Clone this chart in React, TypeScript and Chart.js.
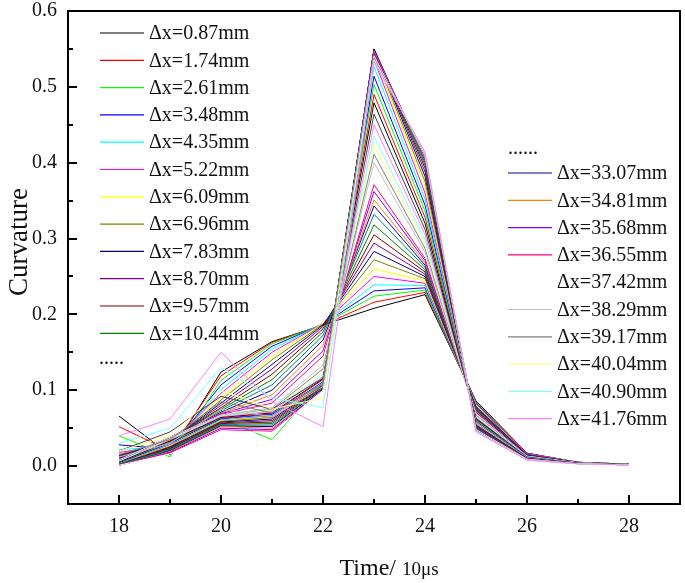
import React, { useEffect, useRef } from "react";
import { Chart, registerables } from "chart.js";

Chart.register(...registerables);

// ---------- data ----------
const timeSteps = [18, 19, 20, 21, 22, 23, 24, 25, 26, 27, 28];

const s01 = [0.066, 0.015, 0.124, 0.164, 0.186, 0.208, 0.226, 0.086, 0.017, 0.005, 0.0025];
const s02 = [0.052, 0.020, 0.119, 0.163, 0.186, 0.216, 0.229, 0.085, 0.017, 0.005, 0.0025];
const s03 = [0.040, 0.012, 0.113, 0.161, 0.187, 0.224, 0.232, 0.084, 0.016, 0.005, 0.0025];
const s04 = [0.028, 0.022, 0.107, 0.158, 0.187, 0.231, 0.235, 0.083, 0.016, 0.005, 0.0025];
const s05 = [0.022, 0.025, 0.101, 0.154, 0.188, 0.239, 0.238, 0.082, 0.016, 0.005, 0.0024];
const s06 = [0.018, 0.028, 0.096, 0.150, 0.188, 0.250, 0.241, 0.081, 0.016, 0.005, 0.0024];
const s07 = [0.016, 0.030, 0.091, 0.145, 0.188, 0.260, 0.244, 0.080, 0.015, 0.0048, 0.0024];
const s08 = [0.015, 0.032, 0.087, 0.140, 0.187, 0.272, 0.247, 0.079, 0.015, 0.0047, 0.0024];
const s09 = [0.014, 0.033, 0.083, 0.134, 0.186, 0.283, 0.250, 0.078, 0.015, 0.0046, 0.0023];
const s10 = [0.013, 0.034, 0.080, 0.128, 0.184, 0.294, 0.253, 0.077, 0.015, 0.0045, 0.0023];
const s11 = [0.012, 0.035, 0.077, 0.121, 0.181, 0.305, 0.256, 0.076, 0.014, 0.0045, 0.0023];
const s12 = [0.011, 0.036, 0.075, 0.114, 0.177, 0.318, 0.259, 0.075, 0.014, 0.0044, 0.0023];
const s13 = [0.010, 0.036, 0.073, 0.107, 0.172, 0.332, 0.262, 0.074, 0.014, 0.0044, 0.0022];
const s14 = [0.010, 0.037, 0.071, 0.100, 0.166, 0.343, 0.265, 0.073, 0.014, 0.0043, 0.0022];
const s15 = [0.009, 0.037, 0.070, 0.094, 0.159, 0.351, 0.268, 0.072, 0.013, 0.0043, 0.0022];
const s16 = [0.009, 0.038, 0.069, 0.088, 0.152, 0.362, 0.271, 0.071, 0.013, 0.0042, 0.0022];
const s17 = [0.008, 0.038, 0.068, 0.083, 0.145, 0.371, 0.274, 0.070, 0.013, 0.0042, 0.0022];
const s18 = [0.008, 0.038, 0.067, 0.079, 0.139, 0.385, 0.278, 0.069, 0.013, 0.0041, 0.0021];
const s19 = [0.007, 0.037, 0.067, 0.077, 0.133, 0.400, 0.282, 0.068, 0.013, 0.0041, 0.0021];
const s20 = [0.007, 0.037, 0.066, 0.075, 0.128, 0.411, 0.287, 0.067, 0.012, 0.0040, 0.0021];
const s21 = [0.006, 0.036, 0.066, 0.074, 0.124, 0.424, 0.292, 0.066, 0.012, 0.0040, 0.0021];
const s22 = [0.006, 0.035, 0.066, 0.073, 0.121, 0.435, 0.298, 0.065, 0.012, 0.0039, 0.0020];
const s23 = [0.005, 0.034, 0.065, 0.072, 0.118, 0.450, 0.305, 0.064, 0.012, 0.0039, 0.0020];
const s24 = [0.020, 0.045, 0.092, 0.075, 0.116, 0.464, 0.312, 0.063, 0.012, 0.0038, 0.0020];
const s25 = [0.005, 0.033, 0.064, 0.070, 0.115, 0.479, 0.320, 0.062, 0.011, 0.0038, 0.0020];
const s26 = [0.004, 0.032, 0.063, 0.069, 0.114, 0.490, 0.328, 0.061, 0.011, 0.0037, 0.0019];
const s27 = [0.004, 0.031, 0.062, 0.035, 0.112, 0.503, 0.336, 0.060, 0.011, 0.0037, 0.0019];
const s28 = [0.004, 0.030, 0.062, 0.068, 0.111, 0.514, 0.344, 0.059, 0.011, 0.0036, 0.0019];
const s29 = [0.003, 0.029, 0.061, 0.067, 0.110, 0.527, 0.352, 0.058, 0.011, 0.0036, 0.0019];
const s30 = [0.003, 0.028, 0.060, 0.066, 0.109, 0.536, 0.360, 0.057, 0.010, 0.0035, 0.0018];
const s31 = [0.003, 0.027, 0.060, 0.065, 0.108, 0.542, 0.368, 0.056, 0.010, 0.0035, 0.0018];
const s32 = [0.003, 0.026, 0.059, 0.064, 0.107, 0.545, 0.375, 0.055, 0.010, 0.0035, 0.0018];
const s33 = [0.002, 0.025, 0.058, 0.062, 0.106, 0.548, 0.382, 0.054, 0.010, 0.0034, 0.0018];
const s34 = [0.002, 0.024, 0.057, 0.060, 0.105, 0.549, 0.388, 0.053, 0.010, 0.0034, 0.0018];
const s35 = [0.002, 0.023, 0.056, 0.058, 0.104, 0.550, 0.393, 0.052, 0.010, 0.0034, 0.0017];
const s36 = [0.002, 0.022, 0.055, 0.056, 0.103, 0.549, 0.397, 0.051, 0.009, 0.0033, 0.0017];
const s37 = [0.002, 0.021, 0.054, 0.054, 0.102, 0.548, 0.400, 0.050, 0.009, 0.0033, 0.0017];
const s38 = [0.001, 0.020, 0.053, 0.052, 0.102, 0.550, 0.403, 0.050, 0.009, 0.0033, 0.0017];
const s39 = [0.001, 0.019, 0.052, 0.050, 0.101, 0.547, 0.405, 0.049, 0.009, 0.0032, 0.0017];
const s40 = [0.001, 0.018, 0.050, 0.048, 0.101, 0.545, 0.407, 0.049, 0.009, 0.0032, 0.0016];
const s41 = [0.001, 0.017, 0.048, 0.046, 0.100, 0.543, 0.408, 0.048, 0.009, 0.0032, 0.0016];
const s42 = [0.001, 0.016, 0.046, 0.044, 0.100, 0.541, 0.409, 0.048, 0.009, 0.0031, 0.0016];
const s43 = [0.012, 0.030, 0.075, 0.065, 0.105, 0.540, 0.410, 0.047, 0.008, 0.0031, 0.0016];
const s44 = [0.015, 0.035, 0.085, 0.070, 0.108, 0.538, 0.411, 0.047, 0.008, 0.0031, 0.0016];
const s45 = [0.020, 0.040, 0.100, 0.075, 0.090, 0.536, 0.412, 0.046, 0.008, 0.0030, 0.0015];
const s46 = [0.030, 0.050, 0.130, 0.090, 0.077, 0.535, 0.413, 0.046, 0.008, 0.0030, 0.0015];
const s47 = [0.040, 0.062, 0.150, 0.085, 0.052, 0.533, 0.414, 0.045, 0.008, 0.0030, 0.0015];

const seriesValues = [
  s01, s02, s03, s04, s05, s06, s07, s08, s09, s10, s11, s12, s13, s14, s15, s16,
  s17, s18, s19, s20, s21, s22, s23, s24, s25, s26, s27, s28, s29, s30, s31, s32,
  s33, s34, s35, s36, s37, s38, s39, s40, s41, s42, s43, s44, s45, s46, s47,
];

const seriesLabels = [
  "Δx=0.87mm", "Δx=1.74mm", "Δx=2.61mm", "Δx=3.48mm", "Δx=4.35mm", "Δx=5.22mm",
  "Δx=6.09mm", "Δx=6.96mm", "Δx=7.83mm", "Δx=8.70mm", "Δx=9.57mm", "Δx=10.44mm",
  "Δx=11.31mm", "Δx=12.18mm", "Δx=13.05mm", "Δx=13.92mm", "Δx=14.79mm", "Δx=15.66mm",
  "Δx=16.53mm", "Δx=17.40mm", "Δx=18.27mm", "Δx=19.14mm", "Δx=20.01mm", "Δx=20.88mm",
  "Δx=21.75mm", "Δx=22.62mm", "Δx=23.49mm", "Δx=24.36mm", "Δx=25.23mm", "Δx=26.10mm",
  "Δx=26.97mm", "Δx=27.84mm", "Δx=28.71mm", "Δx=29.58mm", "Δx=30.45mm", "Δx=31.32mm",
  "Δx=32.19mm", "Δx=33.07mm", "Δx=34.81mm", "Δx=35.68mm", "Δx=36.55mm", "Δx=37.42mm",
  "Δx=38.29mm", "Δx=39.17mm", "Δx=40.04mm", "Δx=40.90mm", "Δx=41.76mm",
];

// Origin default color cycle
const colorCycle = [
  "#000000", "#FF0000", "#00FF00", "#0000FF", "#00FFFF", "#FF00FF", "#FFFF00", "#808000",
  "#000080", "#800080", "#800000", "#008000", "#008080", "#0000A0", "#FF8000", "#8000FF",
  "#FF0080", "#FFFFFF", "#C0C0C0", "#808080", "#FFFF80", "#80FFFF", "#FF80FF", "#404040",
];

const xMajorTicks = [18, 20, 22, 24, 26, 28];
const xMinorTicks = [19, 21, 23, 25, 27];
const yMajorTicks = [0, 0.1, 0.2, 0.3, 0.4, 0.5, 0.6];
const yMinorTicks = [0.05, 0.15, 0.25, 0.35, 0.45, 0.55];

const leftLegendSeries = [0, 1, 2, 3, 4, 5, 6, 7, 8, 9, 10, 11];
const rightLegendSeries = [37, 38, 39, 40, 41, 42, 43, 44, 45, 46];

const FONT = "'Liberation Serif', 'Times New Roman', serif";

const decorPlugin = {
  id: "decor",
  afterDraw(chart: any) {
    const { ctx, chartArea, scales } = chart;
    const { left, right, top, bottom } = chartArea;
    const xs = scales.x;
    const ys = scales.y;
    ctx.save();
    ctx.strokeStyle = "#000";
    ctx.lineWidth = 2;
    ctx.strokeRect(left, top, right - left, bottom - top);

    const seg = (x1: number, y1: number, x2: number, y2: number) => {
      ctx.beginPath();
      ctx.moveTo(x1, y1);
      ctx.lineTo(x2, y2);
      ctx.stroke();
    };
    xMajorTicks.forEach((v) => {
      const px = Math.round(xs.getPixelForValue(v));
      seg(px, bottom, px, bottom - 9);
    });
    xMinorTicks.forEach((v) => {
      const px = Math.round(xs.getPixelForValue(v));
      seg(px, bottom, px, bottom - 5);
    });
    yMajorTicks.forEach((v) => {
      const py = Math.round(ys.getPixelForValue(v));
      seg(left, py, left + 9, py);
    });
    yMinorTicks.forEach((v) => {
      const py = Math.round(ys.getPixelForValue(v));
      seg(left, py, left + 5, py);
    });

    // legend
    const ds = chart.data.datasets;
    ctx.font = `20px ${FONT}`;
    ctx.textBaseline = "middle";
    ctx.textAlign = "left";
    ctx.lineWidth = 1.2;
    const drawItem = (i: number, lx: number, y: number) => {
      ctx.strokeStyle = ds[i].borderColor;
      seg(lx, y, lx + 44, y);
      ctx.fillStyle = "#111";
      ctx.fillText(ds[i].label, lx + 49, y + 1);
    };
    leftLegendSeries.forEach((i, k) => drawItem(i, 100, 33 + k * 27.3));
    rightLegendSeries.forEach((i, k) => drawItem(i, 508, 173 + k * 27.3));
    ctx.fillStyle = "#111";
    ctx.textBaseline = "alphabetic";
    ctx.fillText(".....", 99, 364);
    ctx.fillText("......", 508, 154);

    // axis titles
    ctx.save();
    ctx.translate(27, 242);
    ctx.rotate(-Math.PI / 2);
    ctx.textAlign = "center";
    ctx.textBaseline = "alphabetic";
    ctx.font = `27px ${FONT}`;
    ctx.fillText("Curvature", 0, 0);
    ctx.restore();

    const part1 = "Time/ ";
    const part2 = "10μs";
    ctx.font = `24px ${FONT}`;
    const w1 = ctx.measureText(part1).width;
    ctx.font = `19px ${FONT}`;
    const w2 = ctx.measureText(part2).width;
    const startX = 389 - (w1 + w2) / 2;
    ctx.textAlign = "left";
    ctx.textBaseline = "alphabetic";
    ctx.font = `24px ${FONT}`;
    ctx.fillText(part1, startX, 575);
    ctx.font = `19px ${FONT}`;
    ctx.fillText(part2, startX + w1, 575);
    ctx.restore();
  },
};

export default function App() {
  const canvasRef = useRef<HTMLCanvasElement | null>(null);

  useEffect(() => {
    if (!canvasRef.current) return;
    const n = seriesValues.length;
    const datasets = seriesValues.map((vals, i) => ({
      label: seriesLabels[i],
      data: vals.map((v, j) => ({ x: timeSteps[j], y: v })),
      borderColor: colorCycle[i % colorCycle.length],
      backgroundColor: colorCycle[i % colorCycle.length],
      borderWidth: 1,
      pointRadius: 0,
      tension: 0,
      fill: false,
      order: n - i,
    }));

    const chart = new Chart(canvasRef.current, {
      type: "line",
      data: { datasets },
      options: {
        responsive: false,
        animation: false,
        layout: { padding: { top: 11, right: 5, left: 0, bottom: 0 } },
        plugins: {
          legend: { display: false },
          tooltip: { enabled: false },
        },
        scales: {
          x: {
            type: "linear",
            min: 17,
            max: 29,
            grid: { display: false, drawTicks: false },
            border: { display: false },
            afterBuildTicks: (scale: any) => {
              scale.ticks = xMajorTicks.map((v) => ({ value: v }));
            },
            afterFit: (scale: any) => {
              scale.height = 79;
              scale.paddingLeft = 0;
              scale.paddingRight = 0;
            },
            ticks: {
              color: "#111",
              font: { family: FONT, size: 20 },
              padding: 11,
              maxRotation: 0,
              callback: (v: any) => String(v),
            },
          },
          y: {
            type: "linear",
            min: -0.05,
            max: 0.6,
            grid: { display: false, drawTicks: false },
            border: { display: false },
            afterBuildTicks: (scale: any) => {
              scale.ticks = yMajorTicks.map((v) => ({ value: v }));
            },
            afterFit: (scale: any) => {
              scale.width = 68;
              scale.paddingTop = 0;
              scale.paddingBottom = 0;
            },
            ticks: {
              color: "#111",
              font: { family: FONT, size: 20 },
              padding: 11,
              callback: (v: any) => Number(v).toFixed(1),
            },
          },
        },
      },
      plugins: [decorPlugin],
    });
    return () => chart.destroy();
  }, []);

  return (
    <div style={{ position: "absolute", left: 0, top: 0, width: 685, height: 583, background: "#fff" }}>
      <canvas ref={canvasRef} width={685} height={583} />
    </div>
  );
}
